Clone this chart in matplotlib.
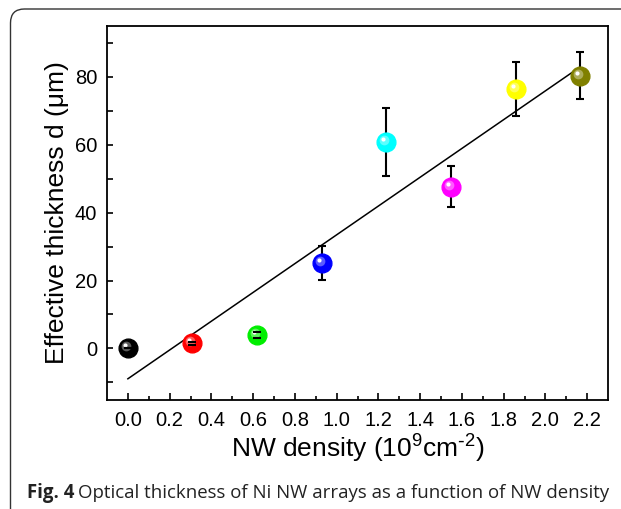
import numpy as np
import matplotlib
matplotlib.use('Agg')
import matplotlib.pyplot as plt
from matplotlib.patches import FancyBboxPatch
from matplotlib.transforms import offset_copy
from matplotlib.colors import to_rgb

# Values
density = [0.0, 0.307, 0.618, 0.928, 1.237, 1.548, 1.858, 2.168]
thickness = [0.0, 1.5, 4.0, 25.1, 60.8, 47.7, 76.4, 80.4]
errors = [0.0, 0.5, 0.8, 5.0, 10.0, 6.0, 8.0, 7.0]
colors = ['#000000', '#ff0000', '#00ee00', '#0000ff', '#00ffff', '#ff00ff', '#ffff00', '#808000']
x_ticks = [0.0, 0.2, 0.4, 0.6, 0.8, 1.0, 1.2, 1.4, 1.6, 1.8, 2.0, 2.2]
y_ticks = [0, 20, 40, 60, 80]

plt.rcParams['font.family'] = ['Liberation Sans', 'DejaVu Sans']

fig = plt.figure(figsize=(6.21, 5.09), dpi=100)
ax = fig.add_axes([107 / 621, 1 - 400 / 509, 501 / 621, 374 / 509])

# linear fit through the points
slope, intercept = np.polyfit(density, thickness, 1)
fit_x = np.array([0.0, 2.15])
ax.plot(fit_x, slope * fit_x + intercept, color='black', lw=1.1, zorder=2)

# error bars (bars behind the balls, caps on top)
_, caps, bars = ax.errorbar(density, thickness, yerr=errors, fmt='none', ecolor='black',
                            elinewidth=1.5, capsize=3, capthick=1.5, zorder=3)
for c in caps:
    c.set_zorder(6)

# shaded "sphere" markers
hl1 = offset_copy(ax.transData, fig=fig, x=-2, y=2, units='dots')
hl2 = offset_copy(ax.transData, fig=fig, x=-3, y=3, units='dots')
for xi, yi, col in zip(density, thickness, colors):
    base = np.array(to_rgb(col))
    light = base + (1 - base) * 0.45
    ax.plot(xi, yi, 'o', ms=13.5, color=col, mec=col, zorder=4)
    ax.plot(xi, yi, 'o', ms=7, color=light, mec='none', alpha=0.8, transform=hl1, zorder=5)
    ax.plot(xi, yi, 'o', ms=3, color='white', mec='none', transform=hl2, zorder=5)

ax.set_xlim(-0.1, 2.3)
ax.set_ylim(-15.2, 95)
ax.set_xticks(x_ticks)
ax.set_xticks(np.arange(0.1, 2.3, 0.2), minor=True)
ax.set_yticks(y_ticks)
ax.set_yticks([-10, 10, 30, 50, 70, 90], minor=True)
ax.set_xticklabels([f'{t:.1f}' for t in x_ticks])
ax.tick_params(which='both', direction='in', top=False, right=False, labelsize=14.5, width=1.2)
ax.tick_params(axis='x', which='major', length=5, pad=8)
ax.tick_params(axis='x', which='minor', length=3)
ax.tick_params(axis='y', which='both', length=4, pad=7)
for s in ax.spines.values():
    s.set_linewidth(1.3)

ax.set_xlabel('NW density (10$^\\mathregular{9}$cm$^\\mathregular{\\text{-}2}$)', fontsize=19, labelpad=1)
ax.set_ylabel('Effective thickness d (\u03bcm)', fontsize=19, labelpad=4)

# rounded frame around figure
frame = FancyBboxPatch((10.5, -60), 700, 560, boxstyle='round,pad=0,rounding_size=14',
                       transform=None, fill=False, edgecolor='#333333', lw=1.0)
fig.patches.append(frame)

# caption
t1 = fig.text(27 / 621, 1 - 493 / 509, 'Fig. 4', fontsize=13.4, fontweight='bold',
              family='Open Sans', va='center', color='#222222')
fig.canvas.draw()
bb = t1.get_window_extent()
fig.text((bb.x1 + 4) / 621, 1 - 493 / 509,
         'Optical thickness of Ni NW arrays as a function of NW density',
         fontsize=13.4, family='Open Sans', va='center', color='#222222')

fig.savefig('out.png', dpi=100)
